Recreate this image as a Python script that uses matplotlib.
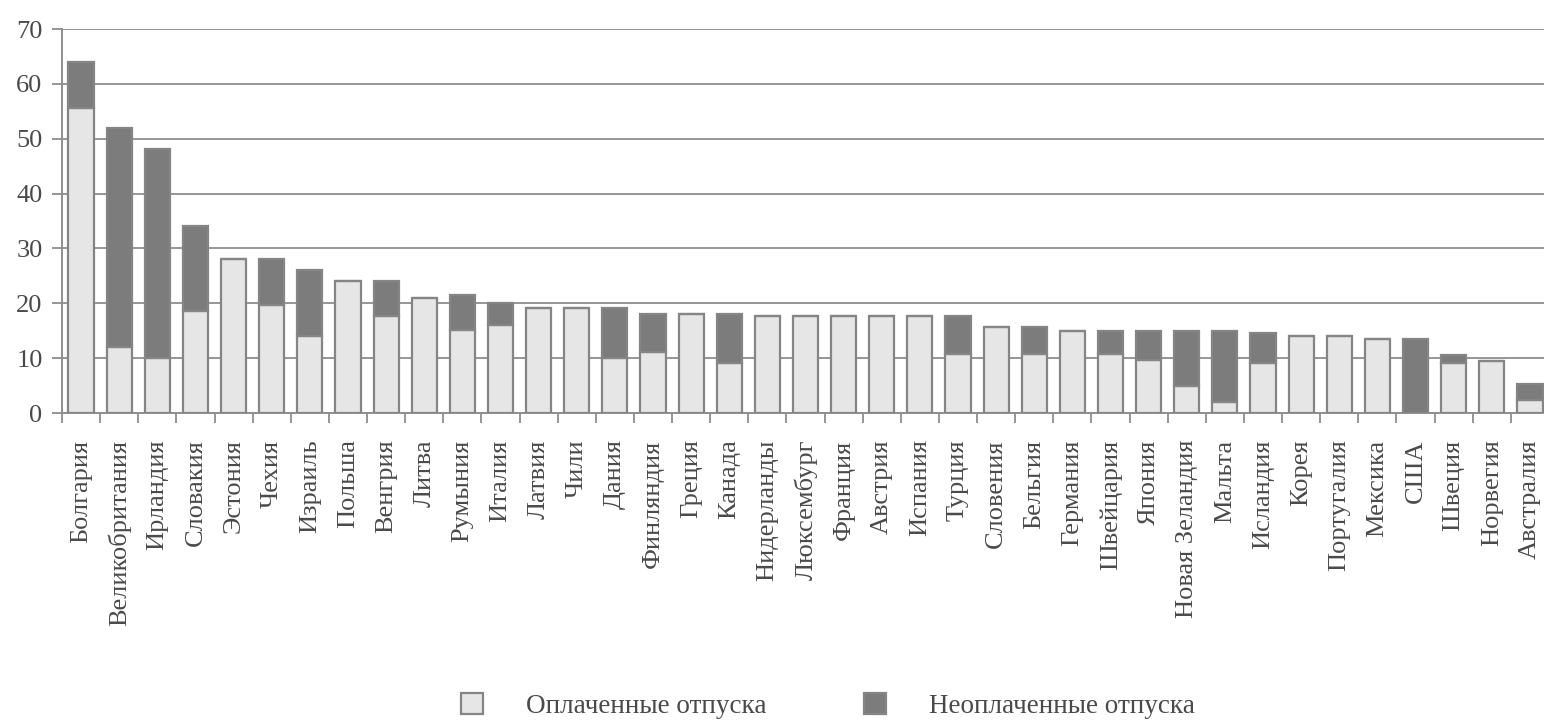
import matplotlib
matplotlib.use("Agg")
import matplotlib.pyplot as plt
from matplotlib.patches import Patch
import numpy as np

countries = [
    "Болгария", "Великобритания", "Ирландия", "Словакия", "Эстония", "Чехия",
    "Израиль", "Польша", "Венгрия", "Литва", "Румыния", "Италия", "Латвия",
    "Чили", "Дания", "Финляндия", "Греция", "Канада", "Нидерланды",
    "Люксембург", "Франция", "Австрия", "Испания", "Турция", "Словения",
    "Бельгия", "Германия", "Швейцария", "Япония", "Новая Зеландия", "Мальта",
    "Исландия", "Корея", "Португалия", "Мексика", "США", "Швеция", "Норвегия",
    "Австралия",
]

# Paid leave (days)
paid = [
    55.6, 12.0, 10.0, 18.6, 28.0, 19.6,
    14.0, 24.0, 17.6, 21.0, 15.2, 16.1, 19.1,
    19.1, 10.1, 11.2, 18.0, 9.2, 17.7,
    17.7, 17.7, 17.7, 17.7, 10.8, 15.6,
    10.8, 15.0, 10.8, 9.7, 5.0, 2.0,
    9.2, 14.0, 14.0, 13.5, 0.0, 9.1, 9.4,
    2.4,
]

# Total leave including unpaid (days)
total = [
    64.0, 52.0, 48.2, 34.0, 28.0, 28.0,
    26.0, 24.0, 24.0, 21.0, 21.6, 20.0, 19.1,
    19.1, 19.1, 18.0, 18.0, 18.0, 17.7,
    17.7, 17.7, 17.7, 17.7, 17.7, 15.6,
    15.6, 15.0, 15.0, 15.0, 15.0, 15.0,
    14.6, 14.0, 14.0, 13.5, 13.5, 10.5, 9.4,
    5.3,
]

unpaid = [t - p for t, p in zip(total, paid)]

yticks = [0, 10, 20, 30, 40, 50, 60, 70]
legend_labels = ["Оплаченные отпуска", "Неоплаченные отпуска"]

plt.rcParams["font.family"] = ["Liberation Serif", "DejaVu Serif"]

W, H = 1544, 720
fig = plt.figure(figsize=(W / 100, H / 100), dpi=100)
ax = fig.add_axes([62 / W, 1 - 413 / H, (1549 - 62) / W, (413 - 29) / H])

light = "#e6e6e6"
dark = "#7c7c7c"
edge = "#858585"
grid_c = "#8e8e8e"
text_c = "#4a4a4a"

x = np.arange(len(countries))
bw = 0.66
ax.bar(x, paid, width=bw, color=light, edgecolor=edge, linewidth=1.6, zorder=3)
ax.bar(x, unpaid, width=bw, bottom=paid, color=dark, edgecolor=edge,
       linewidth=1.6, zorder=3)

ax.set_xlim(-0.5, len(countries) - 0.5)
ax.set_ylim(0, 70)
ax.set_yticks(yticks)
ax.set_yticklabels([str(v) for v in yticks], fontsize=19, color=text_c)
ax.yaxis.grid(True, color=grid_c, linewidth=1.3, zorder=0)
ax.set_axisbelow(True)

ax.set_xticks(x)
ax.set_xticklabels(countries, rotation=90, fontsize=19, color=text_c,
                   va="top", ha="center")
ax.set_xticks(np.arange(len(countries) + 1) - 0.5, minor=True)
ax.tick_params(axis="x", which="major", length=0, pad=19)
ax.tick_params(axis="x", which="minor", length=7, width=1.3, color=grid_c,
               direction="out")
ax.tick_params(axis="y", length=7, width=1.3, color=grid_c, pad=7)

for s in ["top", "right"]:
    ax.spines[s].set_visible(False)
for s in ["left", "bottom"]:
    ax.spines[s].set_color(grid_c)
    ax.spines[s].set_linewidth(1.4)

handles = [
    Patch(facecolor=light, edgecolor=edge, linewidth=1.6),
    Patch(facecolor=dark, edgecolor=edge, linewidth=1.6),
]
fig.legend(handles, legend_labels, loc="center", ncol=2,
           bbox_to_anchor=(828 / W, 1 - 706 / H), frameon=False,
           fontsize=19.5, handlelength=0.8, handleheight=0.8,
           handletextpad=1.6, columnspacing=3.6, labelcolor=text_c)

fig.savefig("out.png", dpi=100, facecolor="white")
